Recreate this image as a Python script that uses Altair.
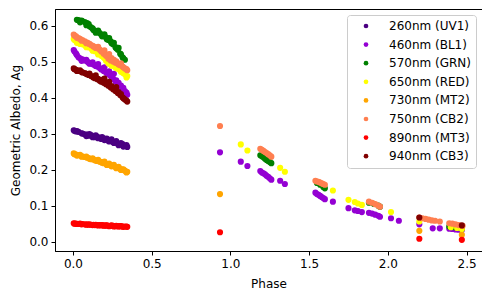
import altair as alt
import pandas as pd

SERIES = ["260nm (UV1)", "460nm (BL1)", "570nm (GRN)", "650nm (RED)",
          "730nm (MT2)", "750nm (CB2)", "890nm (MT3)", "940nm (CB3)"]
COLORS = ["#4b0082", "#9400d3", "#008000", "#ffff00",
          "#ffa500", "#ff7f50", "#ff0000", "#800000"]

# phases of the first (dense) observation run, two interleaved passes
P1 = [0.01, 0.02, 0.035, 0.06, 0.075, 0.09, 0.10, 0.115, 0.13, 0.14, 0.155, 0.17,
      0.18, 0.195, 0.21, 0.225, 0.24, 0.255, 0.27, 0.285, 0.30, 0.315, 0.33, 0.345]
P1B = [0.005, 0.025, 0.045, 0.055, 0.085, 0.105, 0.125, 0.145, 0.16, 0.185,
       0.20, 0.215, 0.23, 0.245, 0.26, 0.275, 0.29, 0.305, 0.32, 0.34]

UV1_A = [0.308, 0.306, 0.305, 0.300, 0.298, 0.297, 0.294, 0.296, 0.292, 0.290, 0.291, 0.288,
         0.285, 0.287, 0.283, 0.280, 0.281, 0.277, 0.276, 0.272, 0.270, 0.271, 0.266, 0.263]
UV1_B = [0.309, 0.307, None, 0.301, 0.293, 0.299, 0.290, 0.295, 0.287, 0.290,
         0.282, 0.286, 0.278, 0.284, 0.274, 0.279, 0.268, 0.274, 0.264, 0.268]
BL1_A = [0.528, 0.522, 0.512, 0.506, 0.503, 0.500, 0.497, 0.495, 0.492, 0.490, 0.486, 0.482,
         0.478, 0.474, 0.470, 0.465, 0.460, 0.452, 0.445, 0.438, 0.430, 0.424, 0.418, 0.408]
BL1_B = [0.532, 0.518, 0.509, 0.502, 0.505, 0.494, 0.498, 0.488, 0.493, 0.480,
         0.484, 0.468, 0.473, 0.458, 0.466, 0.448, 0.441, 0.433, 0.427, 0.414]
GRN_A = [None, None, 0.615, 0.612, 0.610, 0.607, 0.604, 0.595, 0.588, 0.585, 0.583, 0.579,
         0.575, 0.572, 0.567, 0.560, 0.556, 0.548, 0.540, 0.533, 0.522, 0.512, 0.505, None]
GRN_B = [None, 0.616, 0.609, 0.614, 0.601, 0.598, 0.592, 0.580, 0.586, 0.570,
         0.576, 0.562, 0.565, 0.551, 0.552, 0.537, 0.538, 0.520, 0.509, None]
RED_A = [0.560, 0.557, 0.553, 0.548, 0.545, 0.542, 0.540, 0.536, 0.532, 0.529, 0.525, 0.521,
         0.516, 0.511, 0.502, 0.495, 0.492, 0.488, 0.484, 0.480, 0.476, 0.470, 0.465, 0.460]
RED_B = [0.563, 0.552, 0.549, 0.551, 0.540, 0.544, 0.530, 0.534, 0.520, 0.523,
         0.510, 0.505, 0.498, 0.489, 0.497, 0.482, 0.486, 0.472, 0.468, 0.456]
MT2_A = [0.243, 0.242, 0.240, 0.237, 0.235, 0.233, 0.232, 0.229, 0.228, 0.226, 0.224, 0.222,
         0.221, 0.218, 0.216, 0.214, 0.212, 0.210, 0.207, 0.205, 0.202, 0.200, 0.197, 0.194]
MT2_B = [0.245, 0.239, 0.241, 0.236, 0.236, 0.230, 0.231, 0.225, 0.227, 0.219,
         0.222, 0.213, 0.217, 0.209, 0.213, 0.204, 0.208, 0.199, 0.201, 0.192]
CB2_A = [0.572, 0.570, 0.565, 0.560, 0.556, 0.553, 0.550, 0.546, 0.542, 0.540, 0.537, 0.533,
         0.528, 0.522, 0.516, 0.508, 0.503, 0.500, 0.497, 0.494, 0.490, 0.486, 0.481, 0.476]
CB2_B = [0.575, 0.566, 0.563, 0.558, 0.551, 0.549, 0.544, 0.538, 0.541, 0.529,
         0.531, 0.519, 0.521, 0.510, 0.505, 0.501, 0.492, 0.495, 0.484, 0.479]
MT3_A = [0.050, 0.050, 0.049, 0.049, 0.048, 0.048, 0.047, 0.047, 0.047, 0.046, 0.046, 0.046,
         0.045, 0.045, 0.045, 0.044, 0.044, 0.044, 0.043, 0.043, 0.043, 0.042, 0.042, 0.041]
MT3_B = [0.051, 0.049, 0.050, 0.048, 0.047, 0.048, 0.046, 0.047, 0.045, 0.046,
         0.044, 0.045, 0.043, 0.045, 0.042, 0.044, 0.042, 0.043, 0.041, 0.042]
CB3_A = [0.479, 0.477, 0.474, 0.470, 0.468, 0.465, 0.463, 0.460, 0.456, 0.454, 0.451, 0.447,
         0.444, 0.441, 0.437, 0.433, 0.428, 0.423, 0.418, 0.413, 0.407, 0.401, 0.395, 0.389]
CB3_B = [0.481, 0.474, 0.476, 0.471, 0.466, 0.467, 0.458, 0.462, 0.452, 0.449,
         0.453, 0.440, 0.444, 0.432, 0.425, 0.429, 0.415, 0.410, 0.398, 0.392]

# later, sparser observations (phase, albedo)
BL1_LP = [0.934, 1.066, 1.108, 1.19, 1.20, 1.21, 1.22, 1.23, 1.24, 1.25, 1.26, 1.316, 1.346,
          1.54, 1.55, 1.56, 1.57, 1.58, 1.59, 1.60, 1.651, 1.75, 1.79, 1.81, 1.835,
          1.88, 1.90, 1.92, 1.94, 1.95, 2.02, 2.07, 2.20, 2.285, 2.33,
          2.39, 2.41, 2.43, 2.45, 2.47]
BL1_LA = [0.248, 0.222, 0.210, 0.196, 0.192, 0.190, 0.187, 0.183, 0.180, 0.176, 0.172, 0.169, 0.160,
          0.136, 0.132, 0.130, 0.127, 0.124, 0.121, 0.118, 0.111, 0.093, 0.087, 0.085, 0.082,
          0.080, 0.078, 0.075, 0.072, 0.069, 0.065, 0.058, 0.048, 0.037, 0.037,
          0.036, 0.035, 0.034, 0.033, 0.032]
GRN_LP = [1.19, 1.20, 1.21, 1.22, 1.23, 1.24, 1.25, 1.26, 1.55, 1.57, 1.59, 1.60,
          1.88, 1.91, 1.94, 1.95, 2.39, 2.42, 2.45, 2.47]
GRN_LA = [0.240, 0.237, 0.234, 0.230, 0.227, 0.224, 0.221, 0.218, 0.163, 0.158, 0.152, 0.148,
          0.108, 0.105, 0.100, 0.097, 0.042, 0.040, 0.038, 0.036]
RED_LP = [1.066, 1.108, 1.316, 1.346, 1.651, 1.75, 1.79, 1.81, 1.835, 2.02, 2.20, 2.40, 2.44, 2.47]
RED_LA = [0.270, 0.253, 0.205, 0.194, 0.142, 0.116, 0.110, 0.106, 0.102, 0.082, 0.056, 0.040, 0.038, 0.035]
MT2_LP = [0.934, 2.20, 2.47]
MT2_LA = [0.132, 0.030, 0.019]
CB2_LP = [0.934, 1.19, 1.20, 1.21, 1.22, 1.23, 1.24, 1.25, 1.26,
          1.54, 1.55, 1.56, 1.57, 1.58, 1.59, 1.60, 1.88, 1.90, 1.92, 1.94, 1.95,
          2.20, 2.22, 2.24, 2.26, 2.28, 2.30, 2.33, 2.39, 2.41, 2.43, 2.45, 2.475]
CB2_LA = [0.321, 0.258, 0.255, 0.252, 0.249, 0.246, 0.243, 0.240, 0.236,
          0.169, 0.167, 0.166, 0.164, 0.162, 0.160, 0.158, 0.111, 0.108, 0.104, 0.100, 0.097,
          0.067, 0.065, 0.063, 0.061, 0.059, 0.058, 0.056, 0.051, 0.050, 0.048, 0.046, 0.044]
MT3_LP = [0.934, 2.20, 2.47]
MT3_LA = [0.026, 0.008, 0.005]
CB3_LP = [2.20, 2.47]
CB3_LA = [0.067, 0.045]

first_a = [UV1_A, BL1_A, GRN_A, RED_A, MT2_A, CB2_A, MT3_A, CB3_A]
first_b = [UV1_B, BL1_B, GRN_B, RED_B, MT2_B, CB2_B, MT3_B, CB3_B]
later = [([], []), (BL1_LP, BL1_LA), (GRN_LP, GRN_LA), (RED_LP, RED_LA),
         (MT2_LP, MT2_LA), (CB2_LP, CB2_LA), (MT3_LP, MT3_LA), (CB3_LP, CB3_LA)]

rows = []
for i, name in enumerate(SERIES):
    pts = list(zip(P1, first_a[i])) + list(zip(P1B, first_b[i])) + list(zip(*later[i]))
    for p, a in pts:
        if a is not None:
            rows.append({"Phase": p, "Ag": a, "Filter": name, "k": i})
df = pd.DataFrame(rows)

FONT = "DejaVu Sans"

chart = alt.Chart(df).mark_circle(size=38, opacity=1).encode(
    x=alt.X("Phase:Q", title="Phase",
            scale=alt.Scale(domain=[-0.114, 2.598], nice=False, zero=False),
            axis=alt.Axis(values=[0, 0.5, 1.0, 1.5, 2.0, 2.5], format=".1f")),
    y=alt.Y("Ag:Q", title="Geometric Albedo, Ag",
            scale=alt.Scale(domain=[-0.026, 0.646], nice=False, zero=False),
            axis=alt.Axis(values=[0, 0.1, 0.2, 0.3, 0.4, 0.5, 0.6], format=".1f")),
    color=alt.Color("Filter:N", sort=SERIES,
                    scale=alt.Scale(domain=SERIES, range=COLORS),
                    legend=alt.Legend(title=None, orient="top-right", offset=6,
                                      fillColor="white", strokeColor="#cccccc",
                                      cornerRadius=3, padding=5,
                                      symbolType="circle", symbolSize=22,
                                      symbolStrokeWidth=0, symbolOffset=8,
                                      labelOffset=17, rowPadding=6.6,
                                      labelFont=FONT, labelFontSize=12,
                                      labelColor="black")),
    order=alt.Order("k:Q"),
).properties(
    width=427, height=242,
    autosize=alt.AutoSizeParams(type="none"),
    padding={"left": 47, "top": 1, "right": 0, "bottom": 40},
).configure_view(
    stroke="black", strokeWidth=1
).configure_axis(
    labelFont=FONT, labelFontSize=12, labelColor="black",
    titleFont=FONT, titleFontSize=12, titleColor="black", titleFontWeight="normal",
    grid=False, domainColor="black", tickColor="black", tickSize=4,
    labelPadding=3
).configure_axisY(titlePadding=6).configure_axisX(titlePadding=9)

chart.save("out.html", embed_options={"renderer": "svg", "actions": False})
